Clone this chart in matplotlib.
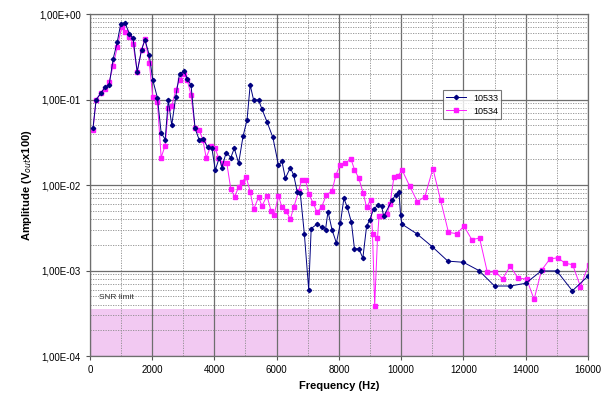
import numpy as np
import matplotlib
matplotlib.use('Agg')
import matplotlib.pyplot as plt
from matplotlib.ticker import FuncFormatter, LogLocator, MultipleLocator

plt.rcParams['font.family'] = ['Liberation Sans', 'DejaVu Sans']

# series 10533 (navy)
freq_10533 = [100, 200, 350, 480, 620, 750, 880, 990, 1130, 1270, 1390, 1520, 1660, 1770, 1910,
              2020, 2170, 2290, 2420, 2520, 2630, 2760, 2880, 3030, 3130, 3250, 3380, 3510, 3630,
              3780, 3920, 4030, 4160, 4240, 4380, 4530, 4640, 4780, 4920, 5050, 5150, 5260, 5420,
              5530, 5690, 5880, 6060, 6170, 6280, 6440, 6550, 6660, 6760, 6890, 7030, 7110, 7300,
              7460, 7570, 7650, 7780, 7920, 8050, 8160, 8270, 8400, 8500, 8640, 8770, 8890, 8990,
              9120, 9260, 9370, 9440, 9710, 9820, 9930, 9980, 10020, 10500, 11000, 11500, 12000,
              12500, 13000, 13500, 14000, 14500, 15000, 15500, 16000]
amp_10533 = [0.046, 0.099, 0.118, 0.139, 0.148, 0.30, 0.47, 0.76, 0.79, 0.59, 0.52, 0.21, 0.38, 0.50, 0.33,
             0.17, 0.105, 0.041, 0.034, 0.099, 0.050, 0.108, 0.20, 0.215, 0.174, 0.148, 0.046, 0.034, 0.035,
             0.028, 0.027, 0.015, 0.021, 0.016, 0.024, 0.021, 0.027, 0.018, 0.037, 0.058, 0.148, 0.099, 0.099,
             0.077, 0.055, 0.036, 0.017, 0.019, 0.012, 0.016, 0.013, 0.0084, 0.0080, 0.0027, 0.00060, 0.0031, 0.0035,
             0.0032, 0.0030, 0.0049, 0.0030, 0.0021, 0.0036, 0.0070, 0.0055, 0.0037, 0.0018, 0.0018, 0.0014, 0.0033, 0.0039,
             0.0053, 0.0058, 0.0057, 0.0043, 0.0067, 0.0076, 0.0084, 0.0045, 0.0035, 0.0027, 0.0019, 0.00129, 0.00125,
             0.00100, 0.00066, 0.00066, 0.00071, 0.00099, 0.00099, 0.00058, 0.00086]

# series 10534 (magenta)
freq_10534 = [100, 200, 350, 480, 620, 750, 880, 1020, 1130, 1270, 1390, 1520, 1660, 1770, 1910,
              2020, 2170, 2290, 2420, 2520, 2630, 2760, 2880, 3030, 3130, 3250, 3380, 3510, 3630,
              3735, 3900, 4025, 4130, 4270, 4400, 4530, 4650, 4780, 4900, 5020, 5150, 5260, 5420,
              5530, 5690, 5820, 5920, 6060, 6170, 6300, 6440, 6550, 6710, 6800, 6930, 7030, 7170,
              7300, 7450, 7600, 7780, 7900, 8030, 8200, 8390, 8500, 8640, 8780, 8890, 9020, 9080,
              9150, 9240, 9290, 9400, 9550, 9640, 9770, 9890, 10030, 10270, 10520, 10760, 11020,
              11270, 11520, 11780, 12020, 12270, 12520, 12770, 13010, 13260, 13500, 13760, 14030,
              14270, 14510, 14780, 15030, 15270, 15510, 15760, 16020]
amp_10534 = [0.044, 0.10, 0.12, 0.134, 0.16, 0.25, 0.41, 0.70, 0.62, 0.54, 0.45, 0.21, 0.38, 0.51, 0.27,
             0.108, 0.094, 0.021, 0.029, 0.079, 0.083, 0.129, 0.17, 0.20, 0.17, 0.113, 0.046, 0.044, 0.034,
             0.021, 0.029, 0.027, 0.021, 0.018, 0.018, 0.0089, 0.0073, 0.0095, 0.011, 0.0125, 0.0084, 0.0052, 0.0072,
             0.0057, 0.0075, 0.0050, 0.0045, 0.0075, 0.0055, 0.0050, 0.0040, 0.0055, 0.0085, 0.0114, 0.0114, 0.0079, 0.0062,
             0.0048, 0.0056, 0.0077, 0.0085, 0.013, 0.017, 0.0182, 0.020, 0.0152, 0.0120, 0.0081, 0.0055, 0.0067, 0.0027,
             0.00039, 0.0024, 0.0043, 0.0044, 0.0046, 0.0060, 0.0125, 0.0127, 0.015, 0.0098, 0.0064, 0.0073, 0.0156,
             0.0066, 0.0028, 0.0027, 0.0033, 0.0023, 0.0024, 0.00095, 0.00097, 0.00080, 0.00113, 0.00081, 0.00080,
             0.00046, 0.00101, 0.00137, 0.00141, 0.00122, 0.00117, 0.00065, 0.00117]

snr_limit = 3.6e-4
x_ticks = [0, 2000, 4000, 6000, 8000, 10000, 12000, 14000, 16000]

fig = plt.figure(figsize=(6.03, 4.01), dpi=100)
ax = fig.add_axes([0.149, 0.112, 0.826, 0.853])

ax.axhspan(1e-4, snr_limit, color='#f2c9f2', zorder=0, lw=0)
ax.text(300, 4.9e-4, 'SNR limit', fontsize=6, color='#333333', va='center')

ax.plot(freq_10533, amp_10533, color='#000080', marker='D', ms=2.2, lw=0.7, label='10533', zorder=3)
ax.plot(freq_10534, amp_10534, color='#ff1aff', marker='s', ms=2.2, lw=0.7, label='10534', zorder=2)

ax.set_yscale('log')
ax.set_xlim(0, 16000)
ax.set_ylim(1e-4, 1)
ax.set_xticks(x_ticks)
ax.xaxis.set_minor_locator(MultipleLocator(1000))
ax.yaxis.set_major_locator(LogLocator(base=10, numticks=10))
ax.yaxis.set_minor_locator(LogLocator(base=10, subs=np.arange(2, 10), numticks=20))
ax.yaxis.set_major_formatter(FuncFormatter(lambda v, p: ('%.2E' % v).replace('.', ',')))
ax.yaxis.set_minor_formatter(FuncFormatter(lambda v, p: ''))

ax.grid(which='major', color='#6e6e6e', lw=0.9, ls='-', zorder=1)
ax.grid(which='minor', color='#8c8c8c', lw=0.6, ls=(0, (1.5, 1.5)), zorder=1)
ax.set_axisbelow(True)
ax.tick_params(which='both', labelsize=7, length=3, color='#555555')
ax.tick_params(which='minor', length=0)
for s in ax.spines.values():
    s.set_color('#6e6e6e')
    s.set_linewidth(0.9)

ax.set_xlabel('Frequency (Hz)', fontsize=8, fontweight='bold')
ax.set_ylabel('Amplitude (V$_{out}$x100)', fontsize=8, fontweight='bold')

leg = ax.legend(loc='upper left', bbox_to_anchor=(0.70, 0.79), fontsize=6.5, frameon=True,
                fancybox=False, edgecolor='#555555', handlelength=2.2, borderpad=0.35,
                labelspacing=0.45)
leg.get_frame().set_linewidth(0.8)

fig.savefig('out.png', dpi=100)
